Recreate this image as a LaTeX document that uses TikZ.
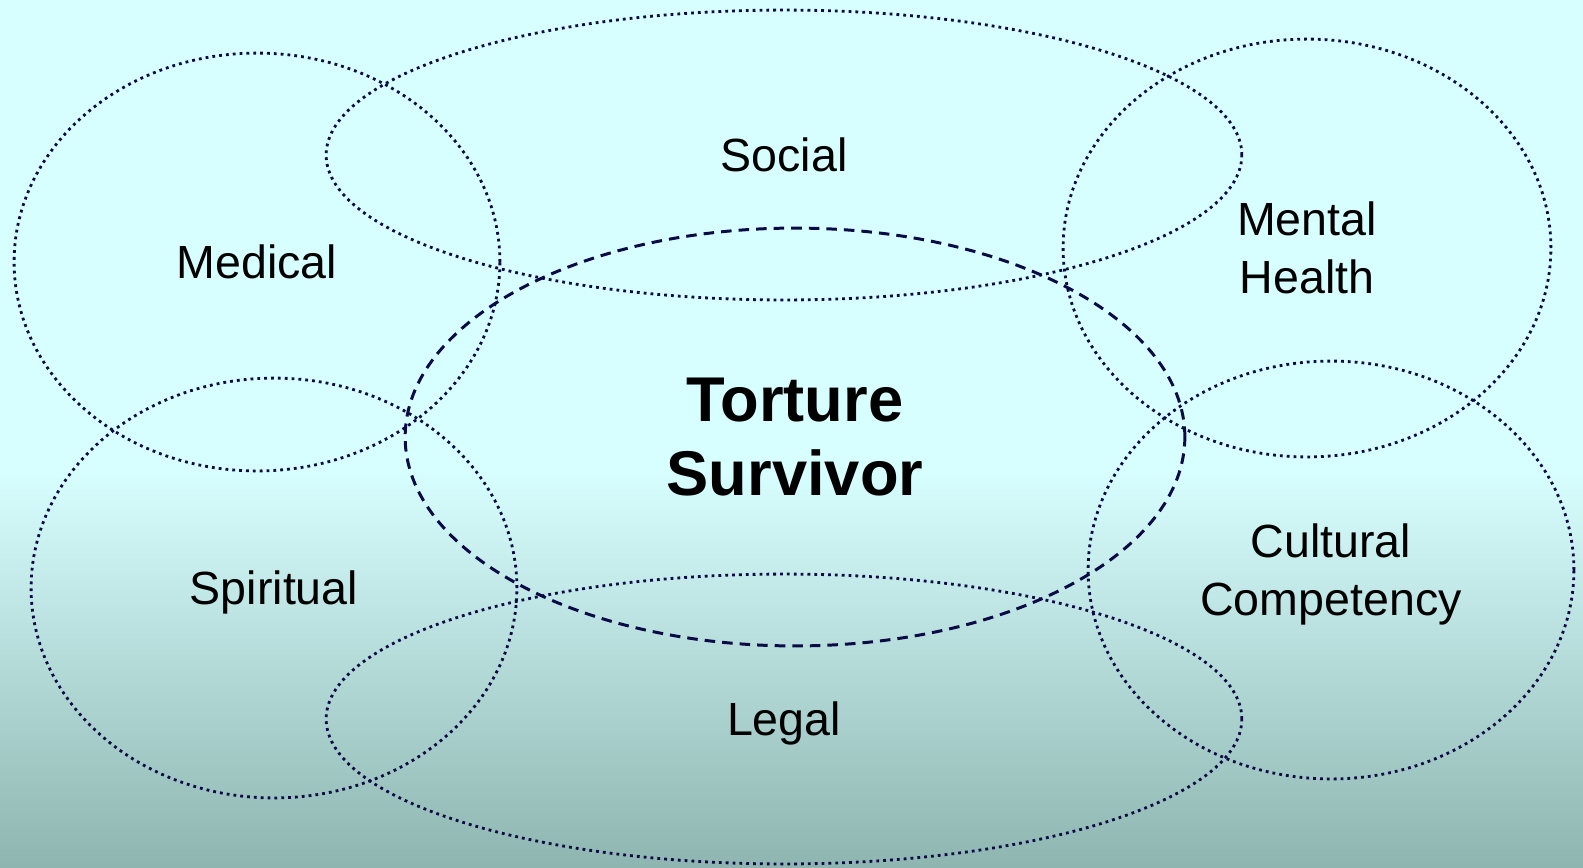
\documentclass[tikz,border=0pt]{standalone}
\usepackage{fontspec}
\setmainfont{Liberation Sans}
\usetikzlibrary{shapes.geometric}
\definecolor{bgtop}{RGB}{216,255,255}
\definecolor{bgbottom}{RGB}{143,181,176}
\definecolor{ringcol}{RGB}{10,10,70}

\begin{document}
\begin{tikzpicture}[x=0.02cm,y=-0.02cm,ring/.style 2 args={ellipse,draw=ringcol,inner sep=0pt,minimum width=#1*0.04cm,minimum height=#2*0.04cm},dots/.style={line width=1.6pt,dash pattern=on 1.6pt off 2.3pt},dashes/.style={line width=1.7pt,dash pattern=on 6pt off 4pt},label/.style={font=\fontsize{26.5}{33}\selectfont,align=center,text depth=0pt},core/.style={font=\fontsize{36}{42.5}\selectfont\bfseries,align=center}]
\useasboundingbox (0,0) rectangle (1583,867);
\fill[bgtop] (0,0) rectangle (1583,470); \shade[top color=bgtop,bottom color=bgbottom] (0,469) rectangle (1583,867);
\node[ring={243}{209},dots,label] (medical) at (257,262) {Medical};
\node[ring={458}{145},dots,label] (social) at (784,155) {Social};
\node[ring={244}{209},dots,label] (mental) at (1307,248) {Mental\\Health};
\node[ring={390}{209},dashes,core] (survivor) at (795,437) {Torture\\Survivor};
\node[ring={243}{210},dots,label] (spiritual) at (274,588) {Spiritual};
\node[ring={458}{145},dots,label] (legal) at (784,719) {Legal};
\node[ring={243}{209},dots,label] (cultural) at (1331,570) {Cultural\\Competency};
\end{tikzpicture}
\end{document}
